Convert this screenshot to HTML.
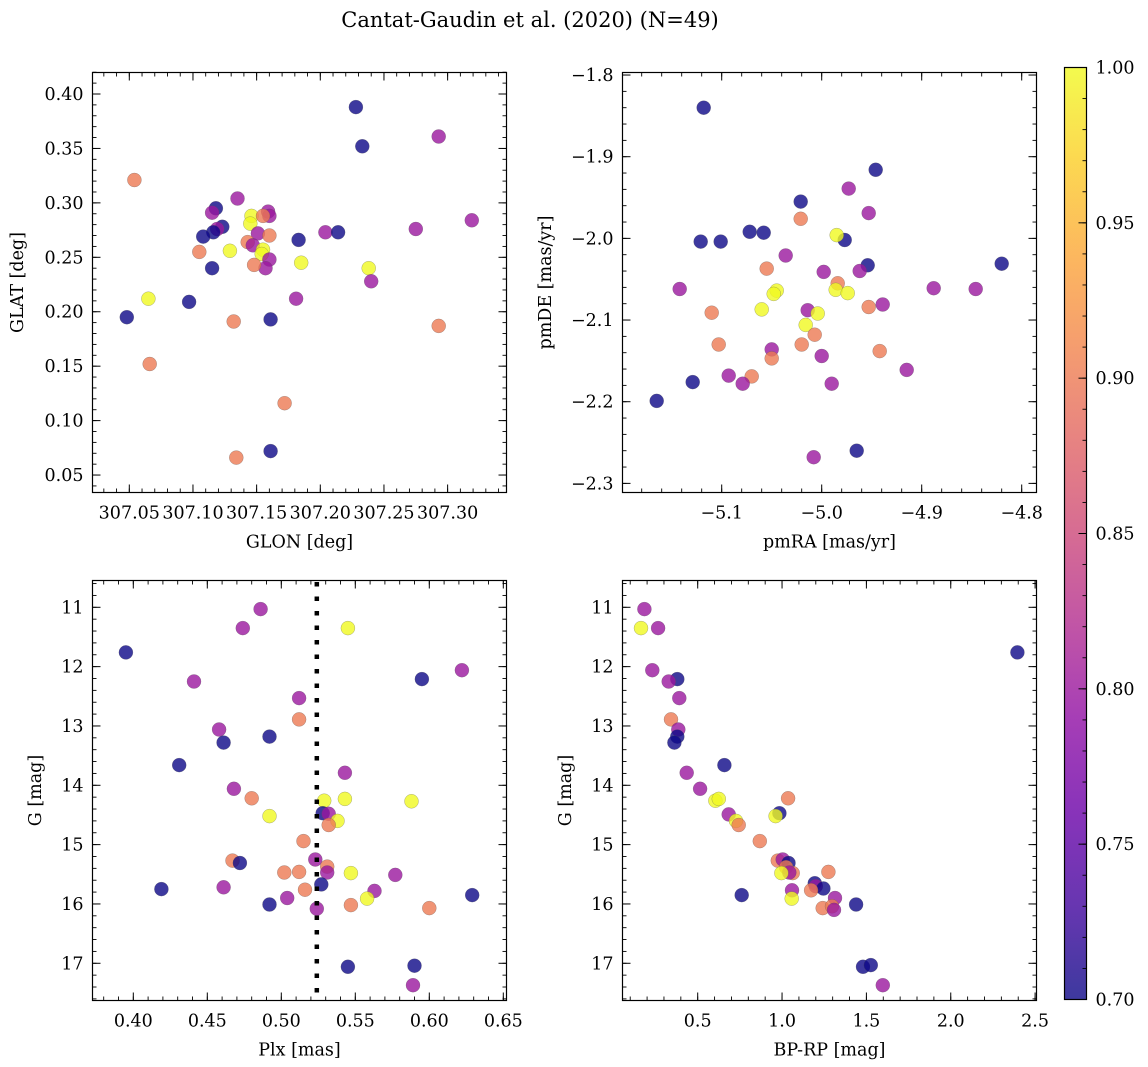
<!DOCTYPE html>
<html><head><meta charset="utf-8">
<style>
html,body{margin:0;padding:0;background:#fff;}
svg{display:block;font-family:"DejaVu Serif","Liberation Serif",serif;}
</style></head>
<body>
<svg id="chart" width="1148" height="1067" viewBox="0 0 1148 1067">
<text x="530" y="27" font-size="21" text-anchor="middle">Cantat-Gaudin et al. (2020) (N=49)</text>
</svg>
<script>
// probability classes: B=0.70, P=0.80, S=0.90, Y=1.00
const P_B=0.70, P_P=0.80, P_S=0.90, P_Y=1.00;

// Panel 1: GLON / GLAT
const glon=[307.228,307.233,307.293,307.319,307.275,307.054,307.135,307.118,307.115,307.123,307.119,307.116,307.108,307.146,307.145,307.159,307.160,307.155,307.151,307.160,307.143,307.147,307.155,307.154,307.160,307.157,307.148,307.105,307.129,307.115,307.183,307.204,307.214,307.185,307.238,307.240,307.181,307.065,307.097,307.048,307.132,307.161,307.293,307.066,307.172,307.134,307.161];
const glat=[0.388,0.352,0.361,0.284,0.276,0.321,0.304,0.295,0.291,0.278,0.276,0.273,0.269,0.288,0.281,0.292,0.288,0.288,0.272,0.270,0.264,0.261,0.257,0.253,0.248,0.240,0.243,0.255,0.256,0.240,0.266,0.273,0.273,0.245,0.240,0.228,0.212,0.212,0.209,0.195,0.191,0.193,0.187,0.152,0.116,0.066,0.072];
const prob1=[P_B,P_B,P_P,P_P,P_P,P_S,P_P,P_B,P_P,P_B,P_P,P_B,P_B,P_Y,P_Y,P_P,P_P,P_S,P_P,P_S,P_S,P_P,P_Y,P_Y,P_P,P_P,P_S,P_S,P_Y,P_B,P_B,P_P,P_B,P_Y,P_Y,P_P,P_P,P_Y,P_B,P_B,P_S,P_B,P_S,P_S,P_S,P_S,P_B];

// Panel 2: pmRA / pmDE
const pmra=[-5.118,-4.946,-4.973,-5.021,-4.953,-5.021,-5.072,-5.058,-5.121,-5.101,-4.977,-4.985,-5.036,-4.954,-4.820,-5.055,-4.998,-4.962,-5.142,-4.888,-4.846,-5.045,-5.048,-4.984,-4.986,-4.974,-5.110,-5.060,-5.014,-5.004,-4.953,-4.939,-5.016,-5.007,-5.103,-5.020,-5.050,-5.050,-5.000,-4.942,-4.915,-5.093,-5.070,-5.079,-5.129,-4.990,-5.165,-4.965,-5.008];
const pmde=[-1.840,-1.916,-1.939,-1.955,-1.969,-1.976,-1.992,-1.993,-2.004,-2.004,-2.002,-1.996,-2.021,-2.033,-2.031,-2.037,-2.041,-2.040,-2.062,-2.061,-2.062,-2.064,-2.068,-2.055,-2.063,-2.067,-2.091,-2.087,-2.088,-2.092,-2.084,-2.081,-2.106,-2.118,-2.130,-2.130,-2.136,-2.147,-2.144,-2.138,-2.161,-2.168,-2.169,-2.178,-2.176,-2.178,-2.199,-2.260,-2.268];
const prob2=[P_B,P_B,P_P,P_B,P_P,P_S,P_B,P_B,P_B,P_B,P_B,P_Y,P_P,P_B,P_B,P_S,P_P,P_P,P_P,P_P,P_P,P_Y,P_Y,P_S,P_Y,P_Y,P_S,P_Y,P_P,P_Y,P_S,P_P,P_Y,P_S,P_S,P_S,P_P,P_S,P_P,P_S,P_P,P_P,P_S,P_P,P_B,P_P,P_B,P_B,P_P];

// Panel 3: Plx / G
const plx=[0.486,0.474,0.545,0.395,0.441,0.595,0.622,0.512,0.512,0.458,0.461,0.492,0.431,0.543,0.468,0.480,0.529,0.543,0.588,0.492,0.528,0.532,0.538,0.532,0.515,0.467,0.472,0.523,0.531,0.531,0.502,0.512,0.547,0.577,0.419,0.461,0.516,0.527,0.563,0.558,0.629,0.492,0.504,0.524,0.547,0.600,0.545,0.590,0.589];
const gmag3=[11.03,11.35,11.35,11.76,12.25,12.21,12.06,12.53,12.89,13.06,13.28,13.18,13.66,13.79,14.06,14.22,14.26,14.23,14.27,14.52,14.47,14.48,14.60,14.67,14.94,15.27,15.31,15.25,15.37,15.47,15.47,15.46,15.48,15.51,15.75,15.72,15.76,15.67,15.78,15.91,15.85,16.01,15.90,16.08,16.02,16.07,17.06,17.04,17.37];
const prob3=[P_P,P_P,P_Y,P_B,P_P,P_B,P_P,P_P,P_S,P_P,P_B,P_B,P_B,P_P,P_P,P_S,P_Y,P_Y,P_Y,P_Y,P_B,P_P,P_Y,P_S,P_S,P_S,P_B,P_P,P_S,P_P,P_S,P_S,P_Y,P_P,P_B,P_P,P_S,P_B,P_P,P_Y,P_B,P_B,P_P,P_P,P_S,P_S,P_B,P_B,P_P];
const plxMedian=[0.524];

// Panel 4: BP-RP / G
const bprp=[0.184,0.164,0.265,2.395,0.231,0.379,0.328,0.391,0.342,0.385,0.379,0.362,0.658,0.435,0.514,1.036,0.605,0.625,0.984,0.962,0.684,0.727,0.743,0.868,0.975,1.004,1.038,1.024,1.063,1.043,0.996,1.275,1.194,1.200,1.245,1.172,1.059,1.057,0.761,1.314,1.439,1.241,1.296,1.308,1.480,1.526,1.597];
const gmag4=[11.03,11.35,11.35,11.76,12.06,12.21,12.25,12.53,12.89,13.06,13.18,13.28,13.66,13.79,14.06,14.22,14.26,14.23,14.47,14.52,14.49,14.60,14.67,14.94,15.27,15.25,15.31,15.38,15.48,15.47,15.48,15.46,15.65,15.70,15.74,15.77,15.77,15.91,15.85,15.90,16.01,16.07,16.04,16.10,17.06,17.03,17.37];
const prob4=[P_P,P_Y,P_P,P_B,P_P,P_B,P_P,P_P,P_S,P_P,P_B,P_B,P_B,P_P,P_P,P_S,P_Y,P_Y,P_B,P_Y,P_P,P_Y,P_S,P_S,P_S,P_P,P_B,P_S,P_S,P_P,P_Y,P_S,P_B,P_P,P_B,P_S,P_P,P_Y,P_B,P_P,P_B,P_S,P_S,P_P,P_B,P_B,P_P];

// tick label arrays
const xt1=[307.05,307.10,307.15,307.20,307.25,307.30];
const yt1=[0.05,0.10,0.15,0.20,0.25,0.30,0.35,0.40];
const xt2=[-5.1,-5.0,-4.9,-4.8];
const yt2=[-2.3,-2.2,-2.1,-2.0,-1.9,-1.8];
const xt3=[0.40,0.45,0.50,0.55,0.60,0.65];
const yt34=[11,12,13,14,15,16,17];
const xt4=[0.5,1.0,1.5,2.0,2.5];
const cbt=[0.70,0.75,0.80,0.85,0.90,0.95,1.00];

const NS='http://www.w3.org/2000/svg';
const svg=document.getElementById('chart');
function mk(tag,attrs,parent){const e=document.createElementNS(NS,tag);for(const k in attrs)e.setAttribute(k,attrs[k]);(parent||svg).appendChild(e);return e;}

const stops=['#0d0887','#41049d','#6a00a8','#8f0da4','#b12a90','#cc4778','#e16462','#f2844b','#fca636','#fcce25','#f0f921'];
function hex(h){return [parseInt(h.substr(1,2),16),parseInt(h.substr(3,2),16),parseInt(h.substr(5,2),16)];}
function plasma(t){t=Math.max(0,Math.min(1,t));const f=t*10,i=Math.min(9,Math.floor(f)),r=f-i;const a=hex(stops[i]),b=hex(stops[i+1]);return 'rgb('+a.map((v,j)=>Math.round(v+(b[j]-v)*r)).join(',')+')';}
function cmap(p){return plasma((p-0.7)/0.3);}
function lin(v0,p0,k){return v=>p0+(v-v0)*k;}
const FS=17.5;

function panel(name,box,sx,sy,xmaj,ymaj,xmin,ymin,xfmt,yfmt,xs,ys,ps,xlabel,ylabel,ylabX){
  const g=mk('g',{});
  
  
  const [L,T,R,B]=box;
  const pts=mk('g',{'clip-path':'url(#clip-'+name+')'},g);
  const cp=mk('clipPath',{id:'clip-'+name},g);mk('rect',{x:L,y:T,width:R-L,height:B-T},cp);
  for(let i=0;i<xs.length;i++){
    const c=mk('circle',{cx:sx(xs[i]).toFixed(1),cy:sy(ys[i]).toFixed(1),r:7,fill:cmap(ps[i]),'fill-opacity':0.8,stroke:'#555','stroke-width':0.4,'stroke-opacity':0.6},pts);
    
    
  }
  mk('rect',{x:L,y:T,width:R-L,height:B-T,fill:'none',stroke:'#000','stroke-width':1.2},g);
  for(let v=xmin[0];v<=xmin[1]+1e-9;v+=xmin[2]){const x=sx(v);if(x<L-0.5||x>R+0.5)continue;mk('line',{x1:x,x2:x,y1:B,y2:B-4,stroke:'#000','stroke-width':0.9},g);mk('line',{x1:x,x2:x,y1:T,y2:T+4,stroke:'#000','stroke-width':0.9},g);}
  for(let v=ymin[0];v<=ymin[1]+1e-9;v+=ymin[2]){const y=sy(v);if(y<T-0.5||y>B+0.5)continue;mk('line',{x1:L,x2:L+4,y1:y,y2:y,stroke:'#000','stroke-width':0.9},g);mk('line',{x1:R,x2:R-4,y1:y,y2:y,stroke:'#000','stroke-width':0.9},g);}
  xmaj.forEach(v=>{const x=sx(v);mk('line',{x1:x,x2:x,y1:B,y2:B-8,stroke:'#000','stroke-width':1},g);mk('line',{x1:x,x2:x,y1:T,y2:T+8,stroke:'#000','stroke-width':1},g);
    const t=mk('text',{x:x,y:B+26,'font-size':FS,'text-anchor':'middle'},g);t.textContent=xfmt(v);
    
    });
  ymaj.forEach(v=>{const y=sy(v);mk('line',{x1:L,x2:L+8,y1:y,y2:y,stroke:'#000','stroke-width':1},g);mk('line',{x1:R,x2:R-8,y1:y,y2:y,stroke:'#000','stroke-width':1},g);
    const t=mk('text',{x:L-9,y:y+6,'font-size':FS,'text-anchor':'end'},g);t.textContent=yfmt(v);
    
    });
  const xl=mk('text',{x:(L+R)/2,y:B+55,'font-size':FS,'text-anchor':'middle'},g);xl.textContent=xlabel;
  
  
  const cy=(T+B)/2;
  const yl=mk('text',{x:ylabX,y:cy,'font-size':FS,'text-anchor':'middle',transform:'rotate(-90 '+ylabX+' '+cy+')'},g);yl.textContent=ylabel;
  
  
  return g;
}
const mn=s=>s.replace('-','\u2212');

const sx1=lin(307.05,129.3,1273.3), sy1=lin(0.40,94,-1088.7);
panel('glon-glat-panel',[92.5,72.5,506.5,492.5],sx1,sy1,xt1,yt1,[307.0,307.4,0.01],[0.0,0.45,0.01],v=>v.toFixed(2),v=>v.toFixed(2),glon,glat,prob1,'GLON [deg]','GLAT [deg]',23);

const sx2=lin(-5.1,721.7,1000), sy2=lin(-1.9,156.7,-816.7);
panel('pm-panel',[622.5,72.5,1036.5,492.5],sx2,sy2,xt2,yt2,[-5.24,-4.76,0.02],[-2.34,-1.78,0.02],v=>mn(v.toFixed(1)),v=>mn(v.toFixed(1)),pmra,pmde,prob2,'pmRA [mas/yr]','pmDE [mas/yr]',551);

const sx3=lin(0.40,133.3,1480), sy34=lin(11,607.3,59.33);
const g3=panel('plx-g-panel',[92.5,580.5,506.5,1000.5],sx3,sy34,xt3,yt34,[0.36,0.66,0.01],[10.4,17.8,0.2],v=>v.toFixed(2),v=>String(v),plx,gmag3,prob3,'Plx [mas]','G [mag]',41);
plxMedian.forEach(v=>{const l=mk('line',{x1:sx3(v),x2:sx3(v),y1:582,y2:1000,stroke:'#000','stroke-width':4.5,'stroke-dasharray':'4.5 10'},g3);
  
  });

const sx4=lin(0.5,697.7,168.7);
panel('cmd-panel',[622.5,580.5,1036.5,1000.5],sx4,sy34,xt4,yt34,[0.0,2.6,0.1],[10.4,17.8,0.2],v=>v.toFixed(1),v=>String(v),bprp,gmag4,prob4,'BP-RP [mag]','G [mag]',571);

// colorbar
const cb=mk('g',{});


const defs=mk('defs',{},cb);
const lg=mk('linearGradient',{id:'cbg',x1:0,y1:1,x2:0,y2:0},defs);
stops.forEach((s,i)=>mk('stop',{offset:(i/10),'stop-color':s},lg));
const cL=1064.5,cR=1086.5,cT=67.5,cB=999.5;
mk('rect',{x:cL,y:cT,width:cR-cL,height:cB-cT,fill:'url(#cbg)','fill-opacity':0.8},cb);
mk('rect',{x:cL,y:cT,width:cR-cL,height:cB-cT,fill:'none',stroke:'#000','stroke-width':1.2},cb);
const scb=lin(0.70,cB,-(cB-cT)/0.30);
for(let v=0.70;v<=1.0001;v+=0.01){const y=scb(v);mk('line',{x1:cR,x2:cR-4,y1:y,y2:y,stroke:'#000','stroke-width':0.9},cb);}
cbt.forEach(v=>{const y=scb(v);mk('line',{x1:cR,x2:cR-8,y1:y,y2:y,stroke:'#000','stroke-width':1},cb);
  const t=mk('text',{x:cR+9,y:y+6,'font-size':FS},cb);t.textContent=v.toFixed(2);
  
  });
</script>
</body></html>
